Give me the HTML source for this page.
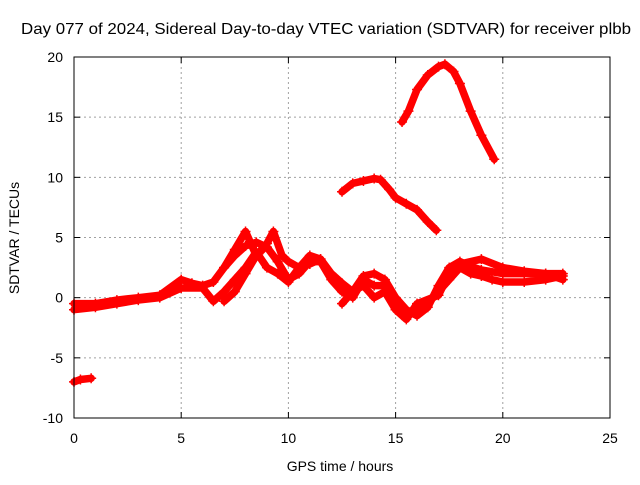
<!DOCTYPE html>
<html><head><meta charset="utf-8"><style>
body{margin:0;background:#fff}
svg text{font-family:"Liberation Sans",sans-serif;font-size:14px;fill:#000}
</style></head><body>
<svg id="chart" width="640" height="480" xmlns="http://www.w3.org/2000/svg">
<rect width="640" height="480" fill="#fff"/>
<g id="grid"></g>
<g id="series"></g>
<rect x="74" y="57" width="536" height="361" fill="none" stroke="#000"/>
<g id="axes"></g>
<text x="21" y="34" style="font-size:16px" textLength="610" lengthAdjust="spacingAndGlyphs">Day 077 of 2024, Sidereal Day-to-day VTEC variation (SDTVAR) for receiver plbb</text>
<text x="340" y="471" text-anchor="middle">GPS time / hours</text>
<text x="0" y="0" transform="translate(19,238) rotate(-90)" text-anchor="middle">SDTVAR / TECUs</text>
</svg>
<script>
const xTicks=[0,5,10,15,20,25];
const yTicks=[-10,-5,0,5,10,15,20];
const seriesA=[[0,-7],[0.3,-6.8],[0.8,-6.7]];
const seriesB=[[15.3,14.6],[15.6,15.5],[16,17.3],[16.5,18.5],[17,19.2],[17.3,19.4],[17.7,18.8],[18,17.8],[18.5,15.5],[19,13.5],[19.6,11.5]];
const seriesC=[[12.5,8.8],[13,9.5],[13.5,9.7],[14,9.9],[14.3,9.8],[14.7,9],[15,8.3],[15.5,7.8],[16,7.3],[16.5,6.3],[16.9,5.6]];
const seriesD=[[0,-0.5],[1,-0.5],[2,-0.2],[3,0],[4,0.2],[5,1.5],[5.5,1.2],[6,1],[6.5,1.3],[7,2.5],[7.5,3.5],[8,4.3],[8.5,4.6],[9,4.2],[9.5,3],[10,1.5],[10.5,2],[11,3],[11.5,3],[12,1.5],[12.5,0.5],[13,0],[13.5,1.5],[14,1],[14.5,1],[15,-0.5],[15.5,-1.5],[16,-1.2],[16.5,-0.5],[17,0.5],[17.5,1.5],[18,2.5],[18.5,2],[19,1.8],[19.5,1.5],[20,1.3],[21,1.3],[22,1.5],[22.8,1.8]];
const seriesE=[[0,-1],[1,-0.8],[2,-0.5],[3,-0.2],[4,0],[5,0.8],[6,0.8],[6.5,-0.3],[7,0.5],[7.5,1.5],[8,2.5],[8.5,3.8],[9,2.5],[9.5,2],[10,1.3],[10.5,2.5],[11,2.8],[11.5,3.2],[12,2],[12.5,1.2],[13,0.5],[13.5,1.8],[14,2],[14.5,1.5],[15,0],[15.5,-1],[16,-1.5],[16.5,-0.8],[17,1],[17.5,2.5],[18,3],[18.5,2.6],[19,2.3],[20,2],[21,2],[22,2],[22.8,2]];
const seriesF=[[7,2.5],[7.5,4],[8,5.5],[8.5,3.5],[9,4.5],[9.3,5.5],[9.7,3.5],[10,3],[10.5,2.5],[11,3.5],[11.5,3.2]];
const seriesG=[[12.5,-0.5],[13,0.5],[13.5,1],[14,0],[14.5,0.5],[15,-1],[15.5,-1.8],[16,-0.5],[17,0.2],[17.5,2],[18,2.8],[19,3.2],[20,2.5],[21,2.2],[22,2],[22.8,1.5]];
const seriesH=[[7,-0.3],[7.5,0.5],[8,2],[8.5,3.5],[8.8,4]];
const allSeries=[seriesA,seriesB,seriesC,seriesD,seriesE,seriesF,seriesG,seriesH];
const NS="http://www.w3.org/2000/svg";
const X=v=>74+(v-0)*536/25;
const Y=v=>418-(v+10)*361/30;
const grid=document.getElementById('grid'),axes=document.getElementById('axes'),ser=document.getElementById('series');
function mk(t,a,p){const e=document.createElementNS(NS,t);for(const k in a)e.setAttribute(k,a[k]);p.appendChild(e);return e;}
xTicks.forEach(t=>{
  if(t>0&&t<25){const g=mk('line',{x1:X(t),x2:X(t),y1:57,y2:418,stroke:'#a0a0a0','stroke-dasharray':'2,3'},grid);
  
  }
  mk('line',{x1:X(t),x2:X(t),y1:418,y2:412,stroke:'#000'},axes);
  mk('line',{x1:X(t),x2:X(t),y1:57,y2:63,stroke:'#000'},axes);
  const tx=mk('text',{x:X(t),y:443,'text-anchor':'middle'},axes);tx.textContent=t;
  
  
});
yTicks.forEach(t=>{
  if(t>-10&&t<20){const g=mk('line',{x1:74,x2:610,y1:Y(t),y2:Y(t),stroke:'#a0a0a0','stroke-dasharray':'2,3'},grid);
  
  }
  mk('line',{x1:74,x2:80,y1:Y(t),y2:Y(t),stroke:'#000'},axes);
  mk('line',{x1:604,x2:610,y1:Y(t),y2:Y(t),stroke:'#000'},axes);
  const tx=mk('text',{x:63,y:Y(t)+5,'text-anchor':'end'},axes);tx.textContent=t;
  
  
});
allSeries.forEach(s=>{
  const pl=mk('polyline',{points:s.map(p=>X(p[0])+','+Y(p[1])).join(' '),fill:'none',stroke:'#f00','stroke-width':7.5,'stroke-linejoin':'round','stroke-linecap':'round'},ser);
  
  
  s.forEach(p=>{
    const m=mk('path',{d:`M${X(p[0])-5},${Y(p[1])}h10M${X(p[0])},${Y(p[1])-5}v10`,stroke:'#f00','stroke-width':1.5},ser);
    
    
  });
});
</script>
</body></html>
